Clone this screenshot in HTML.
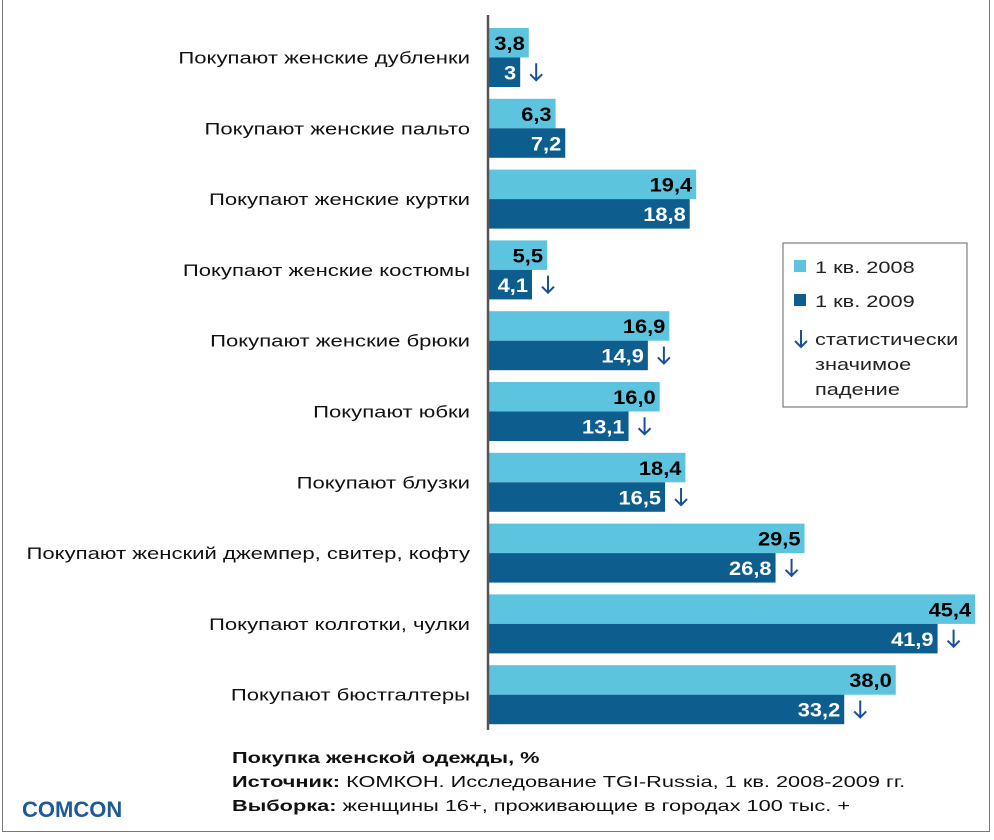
<!DOCTYPE html>
<html><head><meta charset="utf-8"><style>
body{margin:0;background:#fff;}
#wrap{position:relative;width:994px;height:840px;overflow:hidden;font-family:"Liberation Sans",sans-serif;}
#frame{position:absolute;left:2px;top:-2px;width:988px;height:834px;border:1px solid #777;box-sizing:border-box;}
svg text{font-family:"Liberation Sans",sans-serif;}
</style></head><body>
<div id="wrap">
<div id="frame"></div>
<svg id="chart" width="994" height="840" style="position:absolute;left:0;top:0"></svg>
</div>
<script>
const categories=["Покупают женские дубленки","Покупают женские пальто","Покупают женские куртки","Покупают женские костюмы","Покупают женские брюки","Покупают юбки","Покупают блузки","Покупают женский джемпер, свитер, кофту","Покупают колготки, чулки","Покупают бюстгалтеры"];
const values2008=[3.8,6.3,19.4,5.5,16.9,16.0,18.4,29.5,45.4,38.0];
const values2009=[3.0,7.2,18.8,4.1,14.9,13.1,16.5,26.8,41.9,33.2];
const labels2008=["3,8","6,3","19,4","5,5","16,9","16,0","18,4","29,5","45,4","38,0"];
const labels2009=["3","7,2","18,8","4,1","14,9","13,1","16,5","26,8","41,9","33,2"];
const significantDrop=[true,false,false,true,true,true,true,true,true,true];
const NS="http://www.w3.org/2000/svg";
const svg=document.getElementById('chart');
const x0=488,scale=10.73;
const x=v=>x0+v*scale;
const groupY=i=>28+i*70.8;
const bh=29.5;
function mk(t,a,p){const e=document.createElementNS(NS,t);for(const k in a)e.setAttribute(k,a[k]);(p||svg).appendChild(e);return e;}
function txt(s,tx,ty,sx,attrs,p){const t=mk('text',Object.assign({x:0,y:0,transform:`translate(${tx},${ty}) scale(${sx},1)`},attrs),p);t.textContent=s;return t;}
function arrow(cx,cy,name){const g=mk('g',{});


mk('path',{d:`M${cx} ${cy-9} L${cx} ${cy+8} M${cx-6} ${cy+2} L${cx} ${cy+8} L${cx+6} ${cy+2}`,stroke:'#1a4f9a','stroke-width':2,fill:'none'},g);}
categories.forEach((c,i)=>{
 const y=groupY(i);
 const t=txt(c,470,y+bh+6,1.3,{'text-anchor':'end','font-size':17,fill:'#111'});
 
 
 const r1=mk('rect',{x:x0,y:y,width:x(values2008[i])-x0,height:bh,fill:'#5cc4de'});
 
 
 const r2=mk('rect',{x:x0,y:y+bh,width:x(values2009[i])-x0,height:bh,fill:'#0d5e8e'});
 
 
 const l1=txt(labels2008[i],x(values2008[i])-4,y+22,1.15,{'text-anchor':'end','font-size':19,'font-weight':'bold',fill:'#000'});
 
 
 const l2=txt(labels2009[i],x(values2009[i])-4,y+bh+22,1.15,{'text-anchor':'end','font-size':19,'font-weight':'bold',fill:'#fff'});
 
 
 if(significantDrop[i])arrow(x(values2009[i])+16,y+bh+bh/2,'drop-arrow');
});
const ax=mk('line',{x1:x0,y1:15,x2:x0,y2:730,stroke:'#555','stroke-width':2.5});


const lg=mk('g',{});


mk('rect',{x:783,y:243,width:184,height:164,fill:'#fff',stroke:'#666','stroke-width':1},lg);
mk('rect',{x:794,y:260,width:12,height:12,fill:'#5cc4de'},lg);
mk('rect',{x:794,y:294,width:12,height:12,fill:'#0d5e8e'},lg);
[["1 кв. 2008",815,273],["1 кв. 2009",815,307],["статистически",815,345],["значимое",815,370],["падение",815,395]].forEach(a=>{txt(a[0],a[1],a[2],1.28,{'font-size':17,fill:'#222'},lg);});
arrow(801,339,'legend-arrow');
const ft=[["Покупка женской одежды, %","",763],["Источник: ","КОМКОН. Исследование TGI-Russia, 1 кв. 2008-2009 гг.",787],["Выборка: ","женщины 16+, проживающие в городах 100 тыс. +",811]];
ft.forEach(f=>{const t=mk('text',{x:0,y:0,transform:`translate(232,${f[2]}) scale(1.36,1)`,'font-size':16,fill:'#111'});
 
 
 const b=mk('tspan',{'font-weight':'bold'},t);b.textContent=f[0];
 const n=mk('tspan',{},t);n.textContent=f[1];});
const logo=mk('text',{x:22,y:817,'font-size':22,'font-weight':'bold',fill:'#1d5a96'});logo.textContent="COMCON";


</script>
</body></html>
